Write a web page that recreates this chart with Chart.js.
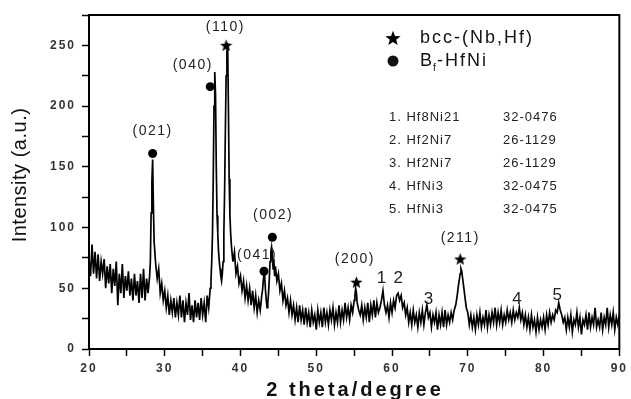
<!DOCTYPE html>
<html>
<head>
<meta charset="utf-8">
<script src="https://cdn.jsdelivr.net/npm/chart.js@4.4.1/dist/chart.umd.min.js"></script>
<style>
  html, body { margin: 0; padding: 0; background: #fff; }
  canvas { display: block; }
</style>
</head>
<body>
<canvas id="xrdChart" width="631" height="399"></canvas>
<script>
const FONT = '"Liberation Sans", Arial, sans-serif';

// XRD scan (2 theta in degrees, intensity in a.u.)
const twoTheta = [
  20.0,20.2,20.4,20.6,20.8,21.0,21.2,21.4,21.6,21.8,
  22.0,22.2,22.4,22.6,22.8,23.0,23.2,23.4,23.6,23.8,
  24.0,24.2,24.4,24.6,24.8,25.0,25.2,25.4,25.6,25.8,
  26.0,26.2,26.4,26.6,26.8,27.0,27.2,27.4,27.6,27.8,28.0,
  28.1,28.2,28.3,28.4,28.5,28.6,
  28.8,29.0,29.2,29.4,29.6,29.8,30.0,30.2,30.4,30.6,30.8,
  31.0,31.2,31.4,31.6,31.8,32.0,32.2,32.4,32.6,32.8,
  33.0,33.2,33.4,33.6,33.8,34.0,34.2,34.4,34.6,34.8,
  35.0,35.2,35.4,35.6,35.8,36.0,
  36.1,36.2,36.3,36.4,36.5,36.6,36.7,36.8,36.9,37.0,
  37.1,37.2,37.3,37.4,37.5,37.6,37.7,37.8,37.9,38.0,
  38.1,38.2,38.3,38.4,38.5,38.6,38.7,38.8,38.9,39.0,
  39.2,39.4,39.6,39.8,40.0,40.2,40.4,40.6,40.8,41.0,
  41.2,41.4,41.6,41.8,42.0,42.2,42.4,42.6,42.8,
  42.9,43.0,43.1,43.2,43.3,43.4,43.5,43.6,43.7,43.8,
  43.9,44.0,44.1,44.2,44.3,44.4,44.5,44.6,
  44.8,45.0,45.2,45.4,45.6,45.8,46.0,46.2,46.4,46.6,
  46.8,47.0,47.2,47.4,47.6,47.8,48.0,48.2,48.4,48.6,
  48.8,49.0,49.2,49.4,49.6,49.8,50.0,50.2,50.4,50.6,
  50.8,51.0,51.2,51.4,51.6,51.8,52.0,52.2,52.4,52.6,
  52.8,53.0,53.2,53.4,53.6,53.8,54.0,54.2,54.4,54.6,
  54.8,55.0,
  55.1,55.2,55.3,55.4,
  55.6,55.8,56.0,56.2,56.4,56.6,56.8,57.0,57.2,57.4,
  57.6,57.8,58.0,58.2,58.4,58.6,58.8,59.0,59.2,59.4,
  59.6,59.8,60.0,60.2,60.4,60.6,60.8,61.0,61.2,61.4,
  61.6,61.8,62.0,62.2,62.4,62.6,62.8,63.0,63.2,63.4,
  63.6,63.8,64.0,64.2,64.4,64.6,64.8,65.0,65.2,65.4,
  65.6,65.8,66.0,66.2,66.4,66.6,66.8,67.0,67.2,67.4,
  67.6,67.8,68.0,68.2,68.4,68.6,68.8,69.0,
  69.1,
  69.2,69.4,69.6,69.8,70.0,70.2,70.4,70.6,70.8,71.0,
  71.2,71.4,71.6,71.8,72.0,72.2,72.4,72.6,72.8,73.0,
  73.2,73.4,73.6,73.8,74.0,74.2,74.4,74.6,74.8,75.0,
  75.2,75.4,75.6,75.8,76.0,76.2,76.4,76.6,76.8,77.0,
  77.2,77.4,77.6,77.8,78.0,78.2,78.4,78.6,78.8,79.0,
  79.2,79.4,79.6,79.8,80.0,80.2,80.4,80.6,80.8,81.0,
  81.2,81.4,81.6,81.8,82.0,82.2,82.4,82.6,82.8,83.0,
  83.2,83.4,83.6,83.8,84.0,84.2,84.4,84.6,84.8,85.0,
  85.2,85.4,85.6,85.8,86.0,86.2,86.4,86.6,86.8,87.0,
  87.2,87.4,87.6,87.8,88.0,88.2,88.4,88.6,88.8,89.0,
  89.2,89.4,89.6,89.8,90.0
];
const intensity = [
  74,60,86,62,80,58,78,56,72,62,
  74,50,68,54,70,46,66,52,72,36,
  62,46,70,42,60,48,64,44,58,40,
  62,44,56,38,62,42,66,40,58,46,60,
  72,112,138,156,118,88,
  70,58,66,46,54,40,48,34,44,28,40,
  30,42,26,38,28,44,26,40,22,38,
  28,46,24,36,22,40,26,38,24,42,
  28,38,22,44,34,50,
  56,72,95,140,200,228,210,150,110,95,
  80,72,66,60,56,62,72,95,130,180,
  225,245,252,200,140,110,95,85,78,72,
  80,62,68,54,60,48,56,42,52,40,
  50,36,48,34,44,30,40,32,44,
  48,56,62,58,48,40,34,38,46,58,
  72,80,84,78,66,74,60,68,
  56,62,48,54,40,48,36,42,30,40,
  28,36,24,34,22,36,24,32,20,34,
  22,30,18,32,22,28,16,32,22,30,
  18,34,22,30,20,32,24,34,20,30,
  22,36,22,32,24,38,26,34,24,36,
  30,40,
  44,50,46,38,
  32,28,36,24,34,26,38,22,36,28,
  40,26,38,30,34,40,48,36,30,36,
  26,38,30,40,34,44,46,40,44,34,
  38,28,34,22,30,20,32,22,28,18,
  30,22,32,20,30,36,26,30,18,28,
  22,30,16,28,20,30,18,32,20,28,
  22,30,24,32,36,44,54,62,
  66,
  64,54,44,34,30,20,28,18,26,16,
  28,20,30,18,26,20,32,18,28,20,
  30,22,34,20,30,22,32,20,28,22,
  32,24,30,22,32,24,30,26,34,24,
  30,20,28,18,26,16,28,18,24,14,
  26,16,24,18,26,16,28,20,30,22,
  28,24,32,30,38,32,28,22,26,16,
  26,18,28,14,24,20,30,18,26,12,
  24,20,28,16,30,18,26,20,34,18,
  24,18,30,16,26,20,34,18,28,20,
  30,16,26,20,28
];

// phase markers
const dotX = [28.4, 36.0, 43.1, 44.2];
const dotY = [161, 216, 64, 92];
const starX = [38.1, 55.3, 69.0];
const starY = [250, 55, 74];

// peak annotations
const peakLabels = ['(021)', '(040)', '(110)', '(041)', '(002)', '(200)', '(211)', '1', '2', '3', '4', '5'];
const labelX = [28.4, 33.7, 38.0, 42.2, 44.3, 55.1, 69.0, 58.6, 60.8, 64.8, 76.5, 81.8];
const labelY = [179, 234, 265, 77, 110, 74, 91, 58, 58, 41, 41, 44];

// reference cards
const cardNames = ['1. Hf8Ni21', '2. Hf2Ni7', '3. Hf2Ni7', '4. HfNi3', '5. HfNi3'];
const cardNumbers = ['32-0476', '26-1129', '26-1129', '32-0475', '32-0475'];

function makeStar(size) {
  const c = document.createElement('canvas');
  c.width = c.height = size;
  const g = c.getContext('2d');
  const r = size / 2;
  g.beginPath();
  for (let i = 0; i < 10; i++) {
    const rad = i % 2 ? r * 0.42 : r;
    const ang = -Math.PI / 2 + i * Math.PI / 5;
    g.lineTo(r + rad * Math.cos(ang), r * 1.08 + rad * Math.sin(ang));
  }
  g.closePath();
  g.fillStyle = '#000';
  g.fill();
  return c;
}
const starSmall = makeStar(13);
const starLegend = makeStar(16);

const xrdText = {
  id: 'xrdText',
  beforeDraw(chart) {
    chart.ctx.letterSpacing = '2px';
  },
  afterDraw(chart) {
    const { ctx, chartArea: a, scales: { x, y } } = chart;
    ctx.save();
    ctx.strokeStyle = '#000';
    ctx.lineWidth = 2;
    ctx.strokeRect(a.left, a.top, a.right - a.left, a.bottom - a.top);

    ctx.fillStyle = '#222';
    ctx.textAlign = 'center';
    ctx.textBaseline = 'middle';
    peakLabels.forEach((t, i) => {
      const short = t.length === 1;
      ctx.font = (short ? '17px ' : '14px ') + FONT;
      ctx.letterSpacing = short ? '0px' : '1.5px';
      ctx.fillText(t, x.getPixelForValue(labelX[i]), y.getPixelForValue(labelY[i]));
    });

    // legend box
    ctx.fillStyle = '#111';
    ctx.textAlign = 'left';
    ctx.drawImage(starLegend, 385, 30);
    ctx.beginPath();
    ctx.arc(393, 61, 5.5, 0, Math.PI * 2);
    ctx.fill();
    ctx.font = '18px ' + FONT;
    ctx.letterSpacing = '2px';
    ctx.fillText('bcc-(Nb,Hf)', 420, 38);
    ctx.fillText('B', 420, 61);
    const bW = ctx.measureText('B').width;
    ctx.font = '10px ' + FONT;
    ctx.letterSpacing = '0px';
    ctx.fillText('f', 420 + bW - 1, 68);
    ctx.font = '18px ' + FONT;
    ctx.letterSpacing = '2px';
    ctx.fillText('-HfNi', 420 + bW + 3, 61);

    ctx.font = '13px ' + FONT;
    ctx.letterSpacing = '1px';
    ctx.fillStyle = '#222';
    cardNames.forEach((t, i) => {
      ctx.fillText(t, 389, 117 + i * 23);
      ctx.fillText(cardNumbers[i], 503, 117 + i * 23);
    });

    // axis titles
    ctx.fillStyle = '#111';
    ctx.textAlign = 'center';
    ctx.font = 'bold 20px ' + FONT;
    ctx.letterSpacing = '3px';
    ctx.fillText('2 theta/degree', 355, 390);
    ctx.translate(20, 175);
    ctx.rotate(-Math.PI / 2);
    ctx.font = '20px ' + FONT;
    ctx.letterSpacing = '0.5px';
    ctx.fillText('Intensity (a.u.)', 0, 0);
    ctx.restore();
  }
};

new Chart(document.getElementById('xrdChart'), {
  type: 'line',
  data: {
    datasets: [
      {
        type: 'scatter',
        data: starX.map((v, i) => ({ x: v, y: starY[i] })),
        pointStyle: starSmall,
        pointRadius: 6
      },
      {
        type: 'scatter',
        data: dotX.map((v, i) => ({ x: v, y: dotY[i] })),
        pointStyle: 'circle',
        pointRadius: 4.5,
        backgroundColor: '#000',
        borderColor: '#000',
        borderWidth: 0
      },
      {
        data: twoTheta.map((v, i) => ({ x: v, y: intensity[i] })),
        borderColor: '#000',
        borderWidth: 1.7,
        pointRadius: 0,
        tension: 0,
        fill: false
      }
    ]
  },
  options: {
    responsive: false,
    animation: false,
    events: [],
    layout: { padding: { left: 0, top: 15, right: 5, bottom: 0 } },
    plugins: { legend: { display: false }, tooltip: { enabled: false } },
    scales: {
      x: {
        type: 'linear',
        min: 20,
        max: 90,
        afterFit(scale) { scale.height = 50; },
        border: { color: '#000', width: 2 },
        grid: { drawOnChartArea: false, tickLength: 7, tickColor: '#000', tickWidth: 1.5 },
        ticks: {
          stepSize: 5,
          autoSkip: false,
          maxRotation: 0,
          padding: 5,
          color: '#333',
          font: { family: FONT, size: 12, weight: 'bold' },
          callback: v => (v % 10 === 0 ? v : '')
        }
      },
      y: {
        min: 0,
        max: 275,
        afterFit(scale) { scale.width = 89; },
        border: { color: '#000', width: 2 },
        grid: { drawOnChartArea: false, tickLength: 7, tickColor: '#000', tickWidth: 1.5 },
        ticks: {
          stepSize: 25,
          autoSkip: false,
          padding: 6,
          color: '#333',
          font: { family: FONT, size: 12, weight: 'bold' },
          callback: v => (v % 50 === 0 ? v : '')
        }
      }
    }
  },
  plugins: [xrdText]
});
</script>
</body>
</html>
